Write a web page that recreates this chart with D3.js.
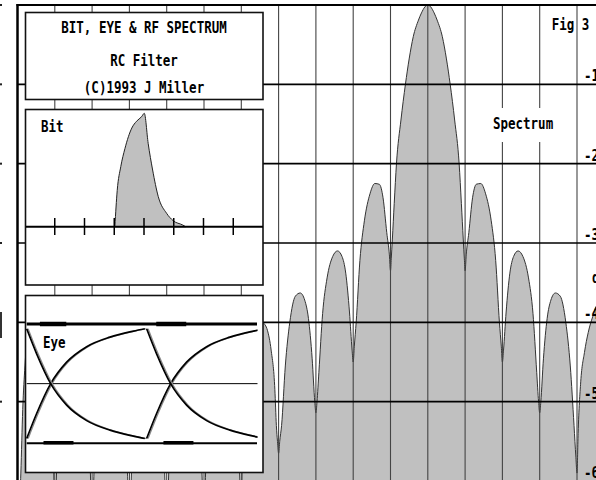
<!DOCTYPE html>
<html>
<head>
<meta charset="utf-8">
<script src="https://cdn.jsdelivr.net/npm/d3@7"></script>
<style>
  html, body { margin: 0; padding: 0; background: #fff; }
  svg { display: block; }
</style>
</head>
<body>
<div id="chart"></div>
<script>
// RF spectrum: offset from carrier (multiples of bit rate) and level in dB
var specFreq = [-11, -10.95, -10.91, -10.86, -10.8, -10.75, -10.65, -10.5, -10.35, -10.2, -10.1, -10.04,
  -10, -9.97, -9.9, -9.8, -9.7, -9.5, -9.3, -9.2, -9.1, -9.03,
  -9, -8.97, -8.9, -8.8, -8.7, -8.5, -8.3, -8.2, -8.1, -8.03,
  -8, -7.97, -7.9, -7.8, -7.7, -7.5, -7.3, -7.2, -7.1, -7.03,
  -7, -6.97, -6.9, -6.8, -6.7, -6.5, -6.3, -6.2, -6.1, -6.03,
  -6, -5.97, -5.9, -5.8, -5.7, -5.5, -5.3, -5.2, -5.1, -5.03,
  -5, -4.97, -4.92, -4.82, -4.7, -4.55, -4.42, -4.3, -4.2, -4.1, -4.06, -4.03,
  -4, -3.97, -3.92, -3.82, -3.7, -3.55, -3.42, -3.3, -3.2, -3.1, -3.03,
  -3, -2.97, -2.92, -2.82, -2.7, -2.55, -2.42, -2.3, -2.2, -2.1, -2.03,
  -2, -1.97, -1.92, -1.82, -1.7, -1.55, -1.42, -1.3, -1.2, -1.1, -1.03,
  -1, -0.98, -0.95, -0.9, -0.84, -0.72, -0.6, -0.5, -0.39, -0.25, -0.17, -0.08,
  0, 0.08, 0.17, 0.25, 0.39, 0.5, 0.6, 0.72, 0.84, 0.9, 0.95, 0.98,
  1, 1.03, 1.1, 1.2, 1.3, 1.42, 1.55, 1.7, 1.82, 1.92, 1.97,
  2, 2.03, 2.1, 2.2, 2.3, 2.42, 2.55, 2.7, 2.82, 2.92, 2.97,
  3, 3.03, 3.1, 3.2, 3.3, 3.42, 3.55, 3.7, 3.82, 3.92, 3.97,
  4, 4.03, 4.1, 4.2, 4.3, 4.42, 4.55, 4.7, 4.82, 4.92, 4.97, 5];
var specDb = [-66, -64, -59, -51, -45.5, -42.2, -39.5, -38.5, -39.5, -42, -47, -55,
  -66, -61.5, -51.2, -45.6, -42.8, -41, -42.8, -45.6, -51.2, -61.5,
  -66, -62, -51.7, -46.1, -43.3, -41.5, -43.3, -46.1, -51.7, -62,
  -66, -62.5, -52.2, -46.6, -43.8, -42, -43.8, -46.6, -52.2, -62.5,
  -66, -62.5, -52.2, -46.6, -43.8, -42, -43.8, -46.6, -52.2, -62.5,
  -66, -61, -50.7, -45.1, -42.3, -40.5, -42.3, -45.1, -50.7, -61,
  -64, -56, -49, -43, -40.5, -39.6, -40, -41, -43.5, -48.5, -53, -55,
  -56.5, -55, -53, -45.5, -40, -36.7, -36.3, -37.2, -39.5, -44.6, -50,
  -51.4, -50, -46.3, -38.9, -34.4, -31.7, -31, -31.7, -33.8, -38.7, -43.5,
  -45, -43, -40, -32.2, -27.2, -23.8, -22.5, -22.6, -24.3, -28.7, -31.5,
  -33.5, -32, -29.5, -25, -20, -14.5, -10, -6.8, -4, -1.9, -1, -0.25,
  0, -0.25, -1, -1.9, -4, -6.8, -10, -14.5, -20, -25, -29.5, -32,
  -33.5, -31.5, -28.7, -24.3, -22.6, -22.5, -23.8, -27.2, -32.2, -40, -43,
  -45, -43.5, -38.7, -33.8, -31.7, -31, -31.7, -34.4, -38.9, -46.3, -50,
  -51.4, -50, -44.6, -39.5, -37.2, -36.3, -36.7, -40, -45.5, -53, -57,
  -59, -54, -47.5, -43.8, -41.3, -39.3, -37.8, -38.5, -41, -47, -54, -60];
var freqGrid = [-10, -9, -8, -7, -6, -5, -4, -3, -2, -1, 0, 1, 2, 3, 4];
var dbGrid = [-10, -20, -30, -40, -50, -60];
var dbLabels = ["-10", "-20", "-30", "-40", "-50", "-60"];

// bit response of the RC filter (time in bit periods, normalised amplitude)
var bitT = [3.02, 3.1, 3.22, 3.36, 3.59, 3.75, 3.92, 4.01, 4.14, 4.29, 4.48, 4.76, 4.98, 5.3, 5.4];
var bitV = [0, 0.32, 0.53, 0.69, 0.87, 0.93, 0.97, 1.0, 0.735, 0.5, 0.265, 0.118, 0.053, 0.015, 0];
var bitTicks = [1, 2, 3, 4, 5, 6, 7];

// eye diagram traces over one bit
var eyeT = [0, 0.083, 0.2, 0.333, 0.5, 0.694, 0.889, 0.985];
var eyeRise = [0.04, 0.25, 0.5, 0.68, 0.81, 0.89, 0.94, 0.96];
var eyeFall = [0.96, 0.75, 0.5, 0.32, 0.19, 0.11, 0.06, 0.04];
var eyeBits = [0, 1];
var eyeHoldHigh = [[0.11, 0.33], [1.08, 1.33]];
var eyeHoldLow = [[0.14, 0.39], [1.14, 1.39]];

var titleLines = ["BIT, EYE & RF SPECTRUM", "RC Filter", "(C)1993 J Miller"];

var width = 596, height = 480;
var font = "'DejaVu Sans Mono', 'Liberation Mono', monospace";

var svg = d3.select("#chart").append("svg")
    .attr("width", width)
    .attr("height", height);

function label(parent, x, y, txt, anchor) {
  return parent.append("text")
      .attr("transform", "translate(" + x + "," + y + ") scale(1,1.3)")
      .attr("font-family", font)
      .attr("font-weight", "bold")
      .attr("font-size", 12.5)
      .attr("text-anchor", anchor || "start")
      .attr("fill", "#000")
      .text(txt);
}

var x = d3.scaleLinear().domain([-11, 4]).range([17.5, 577]);
var y = d3.scaleLinear().domain([0, -60]).range([5, 481]);

svg.append("clipPath").attr("id", "plotclip")
  .append("rect").attr("x", 18).attr("y", 5).attr("width", width - 18).attr("height", height - 5);

var spec = specFreq.map(function(f, i) { return { f: f, db: specDb[i] }; });

var plot = svg.append("g").attr("clip-path", "url(#plotclip)");

plot.append("path")
    .datum(spec)
    .attr("fill", "#c0c0c0")
    .attr("d", d3.area()
      .x(function(d) { return x(d.f); })
      .y0(y(-75))
      .y1(function(d) { return y(d.db); })
      .curve(d3.curveMonotoneX));

plot.append("path")
    .datum(spec)
    .attr("fill", "none")
    .attr("stroke", "#333")
    .attr("stroke-width", 1)
    .attr("d", d3.line()
      .x(function(d) { return x(d.f); })
      .y(function(d) { return y(d.db); })
      .curve(d3.curveMonotoneX));

// grid
plot.selectAll(".vgrid")
  .data(freqGrid)
  .enter().append("line")
    .attr("x1", function(d) { return x(d); })
    .attr("x2", function(d) { return x(d); })
    .attr("y1", 5).attr("y2", height)
    .attr("stroke", "#444")
    .attr("stroke-width", 1.1);

plot.selectAll(".hgrid")
  .data(dbGrid)
  .enter().append("line")
    .attr("x1", 17).attr("x2", width)
    .attr("y1", function(d) { return y(d); })
    .attr("y2", function(d) { return y(d); })
    .attr("stroke", "#000")
    .attr("stroke-width", 1.6);

// frame
svg.append("line").attr("x1", 16.5).attr("x2", width).attr("y1", 5).attr("y2", 5)
    .attr("stroke", "#000").attr("stroke-width", 2);
svg.append("line").attr("x1", 17.5).attr("x2", 17.5).attr("y1", 4).attr("y2", height)
    .attr("stroke", "#000").attr("stroke-width", 2.5);

// left edge remnants of the cut-off axis
svg.selectAll(".ldot")
  .data([0].concat(dbGrid.slice(0, 5)))
  .enter().append("rect")
    .attr("x", 0).attr("y", function(d) { return y(d) - 1; })
    .attr("width", 2).attr("height", 2)
    .attr("fill", "#222");
svg.append("rect").attr("x", 0).attr("y", 312).attr("width", 2).attr("height", 26).attr("fill", "#333");

// right axis labels (cut off by the page edge)
dbGrid.forEach(function(d, i) {
  label(svg, 584, y(d) - 3, dbLabels[i]);
});
label(svg, 592, 283, "dB");

label(svg, 551.7, 30, "Fig 3");
svg.append("rect").attr("x", 489).attr("y", 108).attr("width", 66).attr("height", 34).attr("fill", "#fff");
label(svg, 493, 129, "Spectrum");

// ---- panels ----
function panel(px, py, pw, ph) {
  return svg.append("rect")
      .attr("x", px).attr("y", py).attr("width", pw).attr("height", ph)
      .attr("fill", "#fff")
      .attr("stroke", "#111")
      .attr("stroke-width", 1.6);
}

panel(25.5, 12.5, 237.5, 87);
titleLines.forEach(function(t, i) {
  label(svg, 144, [33, 66, 93][i], t, "middle");
});

// bit panel
panel(25.5, 109.5, 237.5, 175.5);
var bx = d3.scaleLinear().domain([0, 8]).range([25, 263]);
var by = d3.scaleLinear().domain([0, 1]).range([226.7, 113.3]);
var bit = bitT.map(function(t, i) { return { t: t, v: bitV[i] }; });

svg.append("path")
    .datum(bit)
    .attr("fill", "#c0c0c0")
    .attr("stroke", "#222")
    .attr("stroke-width", 1)
    .attr("d", d3.area()
      .x(function(d) { return bx(d.t); })
      .y0(by(0))
      .y1(function(d) { return by(d.v); })
      .curve(d3.curveMonotoneX));

svg.append("line").attr("x1", 26).attr("x2", 263).attr("y1", by(0)).attr("y2", by(0))
    .attr("stroke", "#000").attr("stroke-width", 2);
svg.selectAll(".btick")
  .data(bitTicks)
  .enter().append("line")
    .attr("x1", function(d) { return bx(d); })
    .attr("x2", function(d) { return bx(d); })
    .attr("y1", 218).attr("y2", 235)
    .attr("stroke", "#000").attr("stroke-width", 1.5);
label(svg, 41, 132, "Bit");

// eye panel
panel(25.5, 295.5, 237.5, 177);
var ex = d3.scaleLinear().domain([0, 1.92]).range([26.7, 257]);
var ey = d3.scaleLinear().domain([0, 1]).range([443.3, 324]);

svg.append("clipPath").attr("id", "eyeclip")
  .append("rect").attr("x", 26).attr("y", 296).attr("width", 231.5).attr("height", 175);
var eye = svg.append("g").attr("clip-path", "url(#eyeclip)");

eye.append("line").attr("x1", ex(0)).attr("x2", 263).attr("y1", ey(0.5)).attr("y2", ey(0.5))
    .attr("stroke", "#000").attr("stroke-width", 1);
eye.append("line").attr("x1", ex(0)).attr("x2", ex(1.92)).attr("y1", ey(1)).attr("y2", ey(1))
    .attr("stroke", "#000").attr("stroke-width", 3);
eye.append("line").attr("x1", ex(0)).attr("x2", ex(1.92)).attr("y1", ey(0)).attr("y2", ey(0))
    .attr("stroke", "#000").attr("stroke-width", 2);

eyeHoldHigh.forEach(function(s) {
  eye.append("line").attr("x1", ex(s[0])).attr("x2", ex(s[1])).attr("y1", ey(1)).attr("y2", ey(1))
      .attr("stroke", "#000").attr("stroke-width", 4.5);
});
eyeHoldLow.forEach(function(s) {
  eye.append("line").attr("x1", ex(s[0])).attr("x2", ex(s[1])).attr("y1", ey(0) - 0.5).attr("y2", ey(0) - 0.5)
      .attr("stroke", "#000").attr("stroke-width", 3.5);
});

var eyeLine = d3.line()
    .x(function(d) { return ex(d[0]); })
    .y(function(d) { return ey(d[1]); })
    .curve(d3.curveMonotoneX);

eyeBits.forEach(function(b) {
  [eyeRise, eyeFall].forEach(function(tr) {
    var pts = eyeT.map(function(t, i) { return [t + b, tr[i]]; });
    eye.append("path").datum(pts)
        .attr("fill", "none").attr("stroke", "#888").attr("stroke-width", 1.2)
        .attr("transform", "translate(1.5,0)")
        .attr("d", eyeLine);
    eye.append("path").datum(pts)
        .attr("fill", "none").attr("stroke", "#000").attr("stroke-width", 1.7)
        .attr("d", eyeLine);
  });
});
label(svg, 43, 348, "Eye");
</script>
</body>
</html>
